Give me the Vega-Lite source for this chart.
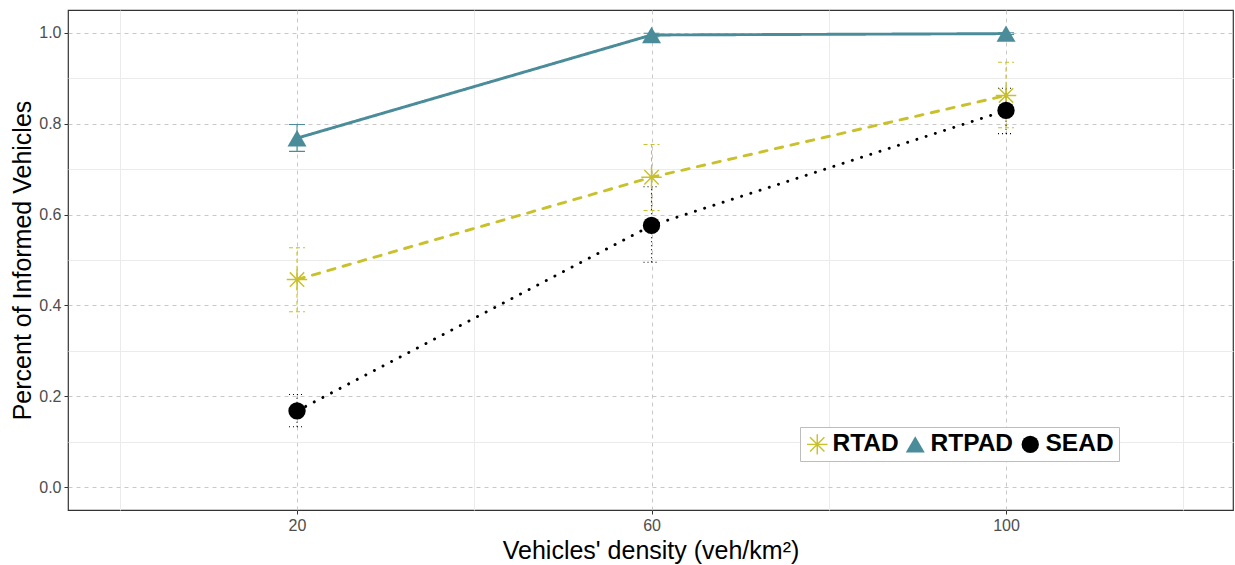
{
  "$schema": "https://vega.github.io/schema/vega-lite/v6.json",
  "autosize": "none",
  "width": 1165,
  "height": 500,
  "padding": {"left": 68, "top": 10, "right": 2, "bottom": 55},
  "background": "white",
  "config": {
    "font": "Liberation Sans",
    "view": {"stroke": "#333333", "strokeWidth": 1.2},
    "axis": {
      "labelFont": "Liberation Sans",
      "titleFont": "Liberation Sans",
      "labelFontSize": 16,
      "labelColor": "#4D4D4D",
      "titleFontSize": 25,
      "titleFontWeight": "normal",
      "titleColor": "black",
      "domain": false,
      "tickColor": "#333333",
      "tickSize": 4
    }
  },
  "data": {
    "values": [
      {"series": "RTAD", "density": 20, "mean": 0.457, "lo": 0.386, "hi": 0.527},
      {"series": "RTAD", "density": 60, "mean": 0.682, "lo": 0.609, "hi": 0.754},
      {"series": "RTAD", "density": 100, "mean": 0.862, "lo": 0.791, "hi": 0.935},
      {"series": "RTPAD", "density": 20, "mean": 0.768, "lo": 0.739, "hi": 0.798},
      {"series": "RTPAD", "density": 60, "mean": 0.995, "lo": 0.991, "hi": 0.999},
      {"series": "RTPAD", "density": 100, "mean": 0.998, "lo": 0.996, "hi": 1.0},
      {"series": "SEAD", "density": 20, "mean": 0.168, "lo": 0.133, "hi": 0.204},
      {"series": "SEAD", "density": 60, "mean": 0.576, "lo": 0.495, "hi": 0.661},
      {"series": "SEAD", "density": 100, "mean": 0.829, "lo": 0.778, "hi": 0.878}
    ]
  },
  "resolve": {"axis": {"x": "independent", "y": "independent"}, "scale": {"strokeDash": "independent"}},
  "layer": [
    {
      "description": "minor grid lines",
      "mark": {"type": "point", "opacity": 0},
      "encoding": {
        "x": {"field": "density", "type": "quantitative", "scale": {"domain": [-5.84, 125.61], "nice": false, "zero": false},
              "axis": {"orient": "bottom", "values": [0, 40, 80, 120], "grid": true, "gridColor": "#EBEBEB", "gridWidth": 1, "labels": false, "ticks": false, "title": null}},
        "y": {"field": "mean", "type": "quantitative", "scale": {"domain": [-0.05, 1.05], "nice": false, "zero": false},
              "axis": {"orient": "left", "values": [0.1, 0.3, 0.5, 0.7, 0.9], "grid": true, "gridColor": "#EBEBEB", "gridWidth": 1, "labels": false, "ticks": false, "title": null}}
      }
    },
    {
      "description": "error bar stems",
      "mark": {"type": "rule", "strokeWidth": 1.1},
      "encoding": {
        "x": {"field": "density", "type": "quantitative",
              "axis": {"orient": "bottom", "values": [20, 60, 100], "grid": true, "gridColor": "#C8C8C8", "gridDash": [4, 4], "gridWidth": 1, "title": "Vehicles' density (veh/km²)", "titlePadding": 5, "labelPadding": 3}},
        "y": {"field": "lo", "type": "quantitative",
              "axis": {"orient": "left", "values": [0, 0.2, 0.4, 0.6, 0.8, 1.0], "format": ".1f", "grid": true, "gridColor": "#C8C8C8", "gridDash": [4, 4], "gridWidth": 1, "title": "Percent of Informed Vehicles", "titlePadding": 3, "labelPadding": 3}},
        "y2": {"field": "hi"},
        "color": {"field": "series", "type": "nominal", "scale": {"domain": ["RTAD", "RTPAD", "SEAD"], "range": ["#C9C12B", "#4A8C9A", "#000000"]}},
        "strokeDash": {"field": "series", "type": "nominal", "legend": null, "scale": {"domain": ["RTAD", "RTPAD", "SEAD"], "range": [[4, 3], [1, 0], [1, 3]]}}
      }
    },
    {
      "description": "error bar caps",
      "transform": [{"fold": ["lo", "hi"], "as": ["end", "val"]}],
      "mark": {"type": "rule", "strokeWidth": 1.1, "xOffset": -8, "x2Offset": 8},
      "encoding": {
        "x": {"field": "density", "type": "quantitative", "axis": null},
        "x2": {"field": "density"},
        "y": {"field": "val", "type": "quantitative", "axis": null},
        "color": {"field": "series", "type": "nominal"},
        "strokeDash": {"field": "series", "type": "nominal", "legend": null, "scale": {"domain": ["RTAD", "RTPAD", "SEAD"], "range": [[4, 3], [1, 0], [1, 3]]}}
      }
    },
    {
      "description": "series lines",
      "mark": {"type": "line", "strokeWidth": 2.9, "strokeCap": "round"},
      "encoding": {
        "x": {"field": "density", "type": "quantitative", "axis": null},
        "y": {"field": "mean", "type": "quantitative", "axis": null},
        "color": {"field": "series", "type": "nominal"},
        "strokeDash": {"field": "series", "type": "nominal", "legend": null, "scale": {"domain": ["RTAD", "RTPAD", "SEAD"], "range": [[7.5, 8.5], [1, 0], [0.1, 9.6]]}}
      }
    },
    {
      "description": "series markers",
      "mark": {"type": "point", "filled": true, "opacity": 1, "strokeWidth": 0},
      "encoding": {
        "x": {"field": "density", "type": "quantitative", "axis": null},
        "y": {"field": "mean", "type": "quantitative", "axis": null},
        "color": {"field": "series", "type": "nominal",
                  "legend": {"title": null, "orient": "none", "legendX": 732, "legendY": 417, "direction": "horizontal",
                             "padding": 5, "strokeColor": "#BDBDBD", "fillColor": "white",
                             "labelFontSize": 24.5, "labelFontWeight": "bold", "labelColor": "black", "labelFont": "Liberation Sans",
                             "symbolSize": 300, "symbolStrokeWidth": 0, "labelOffset": 3, "columnPadding": 4}},
        "shape": {"field": "series", "type": "nominal",
                  "scale": {"domain": ["RTAD", "RTPAD", "SEAD"],
                            "range": ["M-1,-0.07L1,-0.07L1,0.07L-1,0.07ZM-0.07,-1L0.07,-1L0.07,1L-0.07,1ZM-0.65,-0.75L0.75,0.65L0.65,0.75L-0.75,-0.65ZM-0.75,0.65L0.65,-0.75L0.75,-0.65L-0.65,0.75Z", "triangle-up", "circle"]},
                  "legend": {"title": null, "orient": "none", "legendX": 732, "legendY": 417, "direction": "horizontal"}},
        "size": {"field": "series", "type": "nominal", "legend": null, "scale": {"domain": ["RTAD", "RTPAD", "SEAD"], "range": [420, 300, 240]}}
      }
    }
  ]
}
